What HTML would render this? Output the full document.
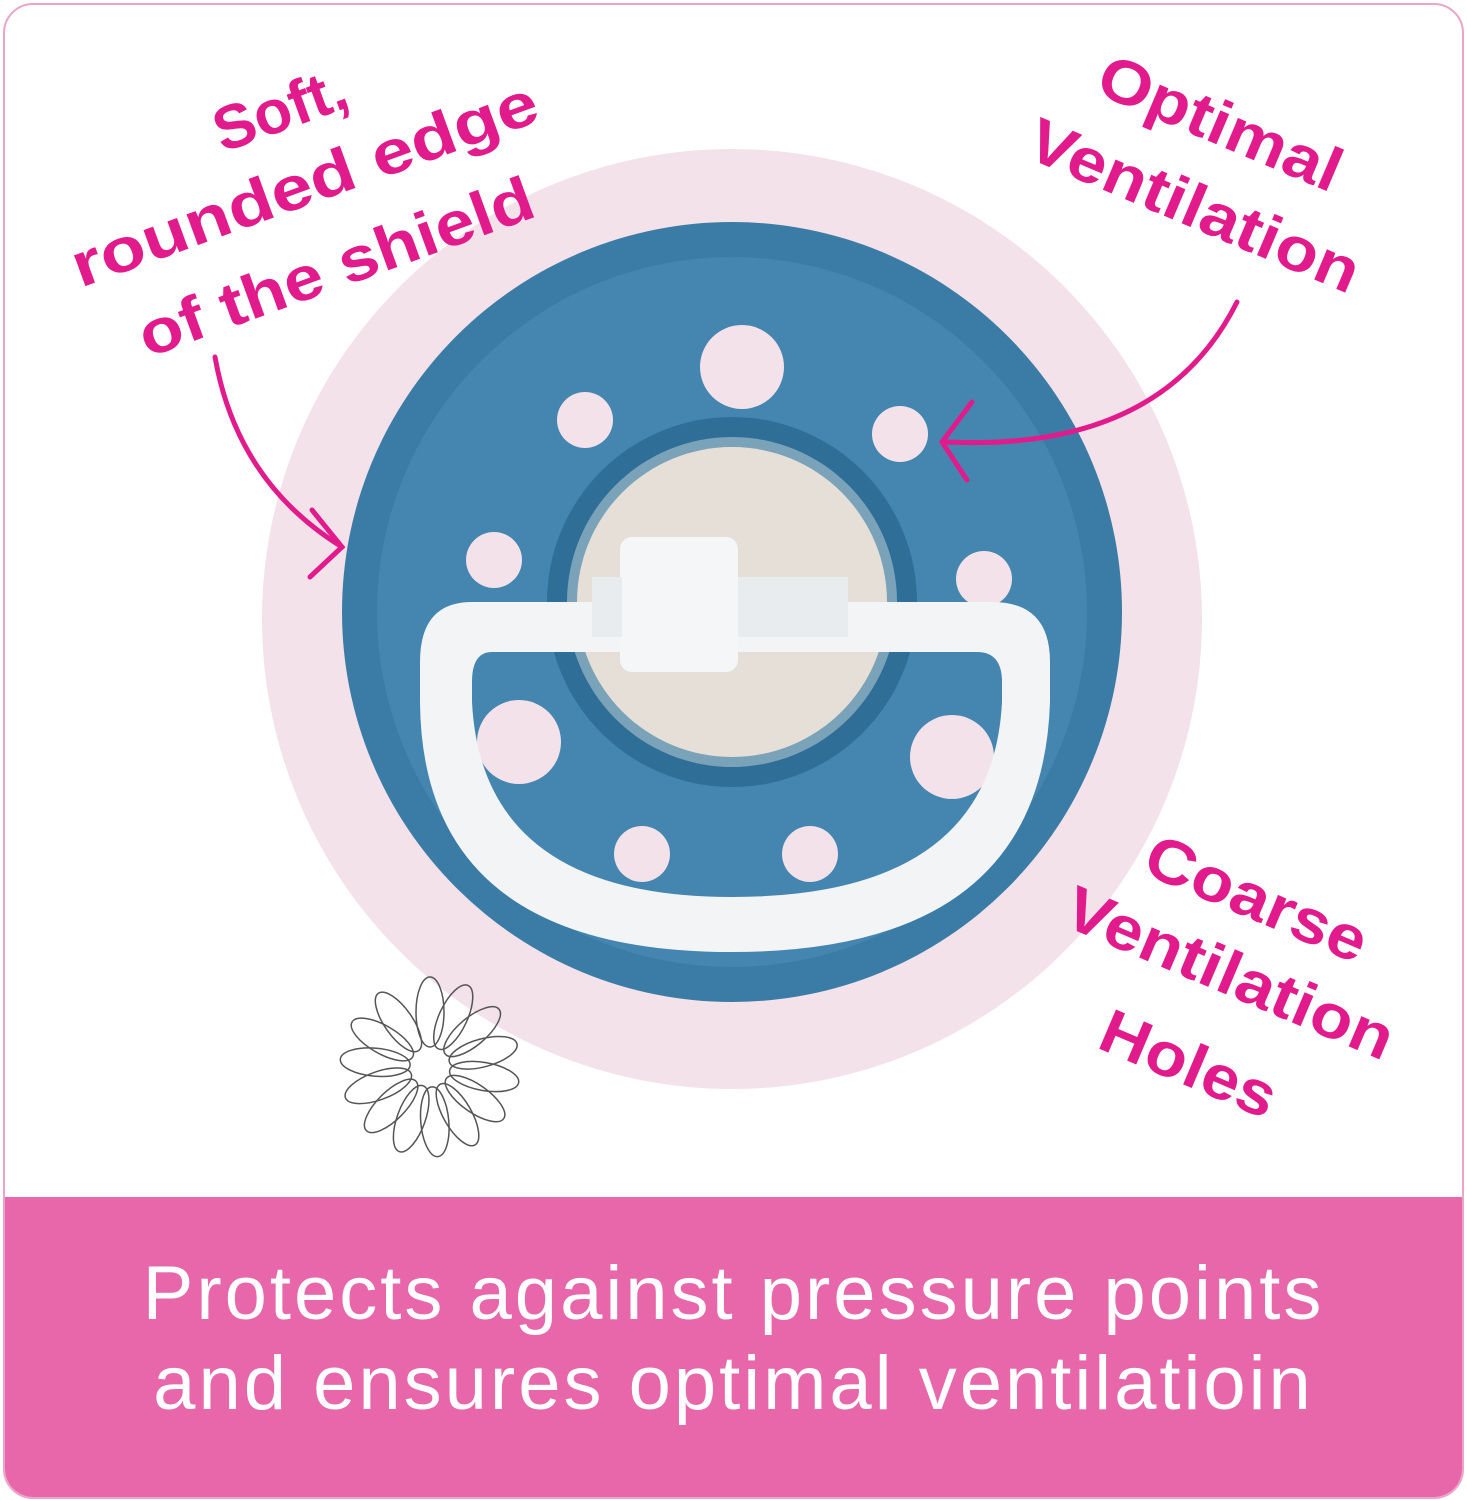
<!DOCTYPE html>
<html><head><meta charset="utf-8"><style>
html,body{margin:0;padding:0;width:1467px;height:1500px;background:#fff;overflow:hidden}
.frame{position:absolute;left:3px;top:3px;width:1457px;height:1492px;border:2px solid #e9a6c9;border-radius:30px;overflow:hidden;background:#fff}
.band{position:absolute;left:0;top:1192px;width:100%;height:310px;background:#e867ab}
.bt{position:absolute;left:0;width:100%;text-align:center;color:#fff;font-family:"Liberation Sans",sans-serif;font-size:76px;letter-spacing:3px}
.lbl{position:absolute;font-family:"Liberation Sans",sans-serif;font-weight:bold;color:#e21b8c;font-size:62px;line-height:62px;white-space:nowrap;transform-origin:left top}
</style></head><body>
<div class="frame">
<svg width="1467" height="1500" style="position:absolute;left:-3px;top:-3px">
<circle cx="730" cy="617" r="470" fill="#f3e2e9"/>
<circle cx="730" cy="610" r="390" fill="#3a7ca6"/>
<circle cx="730" cy="610" r="355" fill="#4486b0"/>
<g fill="#f3e2e9">
<circle cx="740" cy="365" r="42"/><circle cx="583" cy="418" r="28"/><circle cx="898" cy="432" r="28"/>
<circle cx="492" cy="558" r="28"/><circle cx="982" cy="577" r="28"/><circle cx="517" cy="740" r="42"/>
<circle cx="950" cy="755" r="42"/><circle cx="640" cy="852" r="28"/><circle cx="808" cy="852" r="28"/>
</g>
<circle cx="730" cy="600" r="185" fill="#2f6e97"/>
<circle cx="730" cy="600" r="165" fill="#7aa3b9"/>
<circle cx="730" cy="600" r="155" fill="#e6dfd8"/>
<path d="M470 600 L990 600 Q1048 600 1048 660 L1048 700 Q1040 950 730 950 Q420 950 418 700 L418 660 Q418 600 470 600 Z M490 650 Q470 650 470 680 L470 700 Q480 895 730 895 Q990 895 1000 700 L1000 680 Q1000 650 975 650 Z" fill="#f2f4f6" fill-rule="evenodd"/>
<rect x="618" y="535" width="118" height="135" rx="12" fill="#f5f6f7"/>
<rect x="590" y="575" width="30" height="60" fill="#e8ecef"/>
<rect x="736" y="575" width="110" height="60" fill="#e8ecef"/>
<g fill="none" stroke="#e21b8c" stroke-width="5" stroke-linecap="round">
<path d="M213 355 Q235 480 340 545"/><path d="M310 508 L340 545 L308 575"/>
<path d="M1235 300 Q1160 450 945 440"/><path d="M970 400 L940 440 L965 478"/>
</g>
<g fill="none" stroke="#555" stroke-width="1.5" transform="translate(428,1065)">
<g id="p"><ellipse cx="0" cy="-55" rx="14" ry="35"/></g>
<use href="#p" transform="rotate(25)"/><use href="#p" transform="rotate(50)"/><use href="#p" transform="rotate(75)"/><use href="#p" transform="rotate(100)"/><use href="#p" transform="rotate(125)"/><use href="#p" transform="rotate(150)"/><use href="#p" transform="rotate(175)"/><use href="#p" transform="rotate(200)"/><use href="#p" transform="rotate(225)"/><use href="#p" transform="rotate(250)"/><use href="#p" transform="rotate(275)"/><use href="#p" transform="rotate(300)"/><use href="#p" transform="rotate(325)"/>
</g>
</svg>
<div class="band"></div>
<div class="bt" style="top:1245px">Protects against pressure points</div>
<div class="bt" style="top:1335px">and ensures optimal ventilatioin</div>
<div class="lbl" style="left:200px;top:100px;transform:rotate(-20deg) scaleX(1.0)">Soft,</div>
<div class="lbl" style="left:58px;top:235px;transform:rotate(-20deg) scaleX(1.2)">rounded edge</div>
<div class="lbl" style="left:125px;top:305px;transform:rotate(-20deg) scaleX(1.14)">of the shield</div>
<div class="lbl" style="left:1108px;top:40px;transform:rotate(23deg) scaleX(1.12)">Optimal</div>
<div class="lbl" style="left:1038px;top:104px;transform:rotate(23deg) scaleX(1.13)">Ventilation</div>
<div class="lbl" style="left:1155px;top:820px;transform:rotate(23deg) scaleX(1.12)">Coarse</div>
<div class="lbl" style="left:1075px;top:872px;transform:rotate(23deg) scaleX(1.12)">Ventilation</div>
<div class="lbl" style="left:1110px;top:995px;transform:rotate(23deg) scaleX(1.1)">Holes</div>
</div>
</body></html>
